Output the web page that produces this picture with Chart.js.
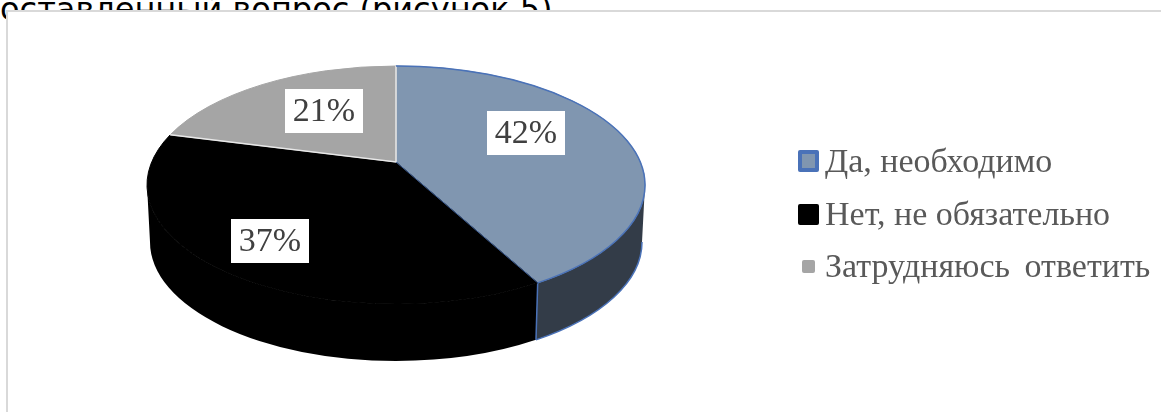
<!DOCTYPE html>
<html lang="ru">
<head>
<meta charset="utf-8">
<title>Pie chart</title>
<script src="https://cdn.jsdelivr.net/npm/chart.js@4"></script>
<style>
    html, body {margin: 0; padding: 0; background: #fff; overflow: hidden;}
    #page {position: relative; width: 1161px; height: 412px; overflow: hidden;}
    #heading {position: absolute; left: 0; top: -10px; white-space: nowrap; color: #000;
        font: 32px "DejaVu Sans", sans-serif; line-height: 38px;}
    #panel {position: absolute; left: 6px; top: 10px; right: 0; bottom: 0; background: #fff;
        border-left: 2px solid #d9d9d9; border-top: 2px solid #d9d9d9;}
    #chart {position: absolute; left: 0; top: 0;}
</style>
</head>
<body>
<div id="page">
    <div id="heading">оставленный вопрос (рисунок 5)</div>
    <div id="panel"></div>
    <canvas id="chart" width="1161" height="412"></canvas>
</div>
<script>
// -----------------------------
// Data
// -----------------------------
const categories = ['Да, необходимо', 'Нет, не обязательно', 'Затрудняюсь ответить'];
const shares = [42, 37, 21];
const sliceColors = ['#8096b0', '#000000', '#a5a5a5'];
const sideColors = ['#333c48', '#000000', '#6f6f6f'];

// -----------------------------
// Look of the tilted pie
// -----------------------------
const pie = {cx: 396, cy: 185, rx: 249, ry: 119, apexY: 162, depth: 57, bottomRx: 246};
const tilt = (pie.apexY - pie.cy) / pie.ry;
const rimBlue = '#4a72b8';
const serif = '"Liberation Serif", serif';
const labelCentres = [[526, 133], [270, 241], [324, 111]];
const legendRows = [
    {box: [798, 150, 21, 22], inner: true, textY: 172, wordGap: '0px'},
    {box: [798, 204, 21, 21], textY: 225, wordGap: '0px'},
    {box: [802, 260, 13, 13], textY: 277, wordGap: '6px'}
];

// circle angle -> angle on the drawn ellipse, so the centre lands on the apex
function projectAngle(a) {
    const u = Math.cos(a), v = Math.sin(a);
    const d = 1 + tilt * v;
    return Math.atan2((v + tilt) / d, u * Math.sqrt(1 - tilt * tilt) / d);
}

function topPoint(t) {
    return [pie.cx + pie.rx * Math.cos(t), pie.cy + pie.ry * Math.sin(t)];
}

function bottomPoint(t) {
    return [pie.cx + pie.bottomRx * Math.cos(t), pie.cy + pie.depth + pie.ry * Math.sin(t)];
}

// -----------------------------
// Front wall of one slice (only the part of the rim facing us)
// -----------------------------
function drawSide(ctx, arc, color, edge) {
    let s = projectAngle(arc.startAngle);
    let e = projectAngle(arc.endAngle);
    if (e < s) e += Math.PI * 2;
    const from = Math.max(s, 0);
    const to = Math.min(e, Math.PI);
    if (to <= from) return;

    ctx.beginPath();
    ctx.ellipse(pie.cx, pie.cy, pie.rx, pie.ry, 0, from, to);
    ctx.ellipse(pie.cx, pie.cy + pie.depth, pie.bottomRx, pie.ry, 0, to, from, true);
    ctx.closePath();
    ctx.fillStyle = color;
    ctx.fill();

    if (edge) {
        const b = bottomPoint(to);
        const t = topPoint(to);
        ctx.beginPath();
        ctx.moveTo(t[0], t[1]);
        ctx.lineTo(b[0], b[1]);
        ctx.moveTo(...bottomPoint(from));
        ctx.ellipse(pie.cx, pie.cy + pie.depth, pie.bottomRx, pie.ry, 0, from, to);
        ctx.strokeStyle = edge;
        ctx.lineWidth = 1.5;
        ctx.stroke();
    }
}

function drawTop(ctx, arc, color) {
    let s = projectAngle(arc.startAngle);
    let e = projectAngle(arc.endAngle);
    ctx.beginPath();
    ctx.moveTo(pie.cx, pie.apexY);
    ctx.ellipse(pie.cx, pie.cy, pie.rx, pie.ry, 0, s, e);
    ctx.closePath();
    ctx.fillStyle = color;
    ctx.fill();
    // closes the hairline against the wall below
    ctx.strokeStyle = color;
    ctx.lineWidth = 1;
    ctx.stroke();
}

// -----------------------------
// Plugin: replaces the flat arcs with the tilted ones
// -----------------------------
const tiltedPie = {
    id: 'tiltedPie',
    beforeDatasetDraw(chart, args) {
        const ctx = chart.ctx;
        const arcs = chart.getDatasetMeta(args.index).data;
        const colors = chart.data.datasets[args.index].backgroundColor;
        ctx.save();

        drawSide(ctx, arcs[1], sideColors[1]);
        drawSide(ctx, arcs[0], sideColors[0], rimBlue);
        arcs.forEach((arc, i) => drawTop(ctx, arc, colors[i]));

        // white seams around the grey slice
        const g = arcs[2];
        ctx.beginPath();
        ctx.moveTo(...topPoint(projectAngle(g.startAngle)));
        ctx.lineTo(pie.cx, pie.apexY);
        ctx.lineTo(...topPoint(projectAngle(g.endAngle)));
        ctx.strokeStyle = '#e8e8e8';
        ctx.lineWidth = 1.5;
        ctx.stroke();

        // blue outline on the first slice
        const b = arcs[0];
        ctx.beginPath();
        ctx.moveTo(pie.cx, pie.apexY);
        ctx.lineTo(...topPoint(projectAngle(b.endAngle)));
        ctx.strokeStyle = rimBlue;
        ctx.lineWidth = 0.8;
        ctx.stroke();
        ctx.beginPath();
        ctx.ellipse(pie.cx, pie.cy, pie.rx, pie.ry, 0, projectAngle(b.startAngle), projectAngle(b.endAngle));
        ctx.lineWidth = 1.5;
        ctx.stroke();

        ctx.restore();
        return false;
    },
    afterDatasetsDraw(chart) {
        const ctx = chart.ctx;
        ctx.save();

        // percent labels on white boxes
        ctx.font = '34px ' + serif;
        ctx.textAlign = 'center';
        ctx.textBaseline = 'middle';
        shares.forEach((share, i) => {
            const [x, y] = labelCentres[i];
            ctx.fillStyle = '#ffffff';
            ctx.fillRect(x - 39, y - 22, 78, 44);
            ctx.fillStyle = '#404040';
            ctx.fillText(share + '%', x, y + 1);
        });

        // legend
        ctx.font = '34px ' + serif;
        ctx.textAlign = 'left';
        ctx.textBaseline = 'alphabetic';
        categories.forEach((name, i) => {
            const row = legendRows[i];
            const [x, y, w, h] = row.box;
            ctx.fillStyle = row.inner ? rimBlue : sliceColors[i];
            ctx.beginPath();
            ctx.roundRect(x, y, w, h, 2);
            ctx.fill();
            if (row.inner) {
                ctx.fillStyle = sliceColors[i];
                ctx.fillRect(x + 4, y + 4, w - 8, h - 8);
            }
            ctx.wordSpacing = row.wordGap;
            ctx.fillStyle = '#595959';
            ctx.fillText(name, 825, row.textY);
        });

        ctx.restore();
    }
};

// -----------------------------
// Chart
// -----------------------------
new Chart(document.getElementById('chart'), {
    type: 'pie',
    data: {
        labels: categories,
        datasets: [{data: shares, backgroundColor: sliceColors, borderWidth: 0}]
    },
    options: {
        responsive: false,
        animation: false,
        plugins: {
            legend: {display: false},
            tooltip: {enabled: false}
        }
    },
    plugins: [tiltedPie]
});
</script>
</body>
</html>
